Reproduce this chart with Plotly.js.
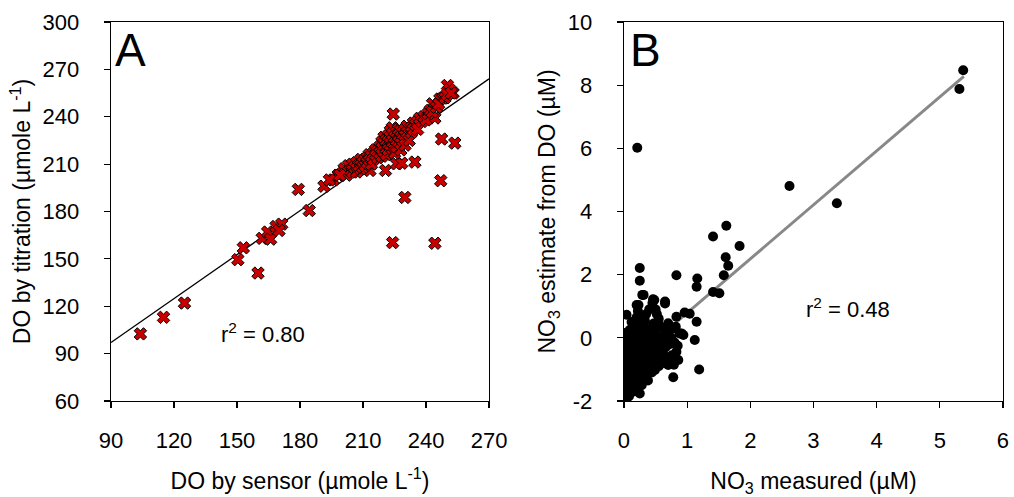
<!DOCTYPE html>
<html>
<head>
<meta charset="utf-8">
<script src="https://cdn.plot.ly/plotly-3.0.1.min.js"></script>
<style>html,body{margin:0;padding:0;background:#fff;}#chart{width:1014px;height:497px;}</style>
</head>
<body>
<div id="chart"></div>
<script>
// ---- Panel A: DO by sensor vs DO by titration ----
const sensorDO = [104,115,125,150.4,153,160,162,164.6,166,168.6,171.3,170,179.2,184.4,191.4,195.8,198.2,224.4,224.1,244.2,229.9,234.7,247,247.4,253.7,250.2,252.9,246.6,243.1,244.2,248,251.2,220.7,226,228.4,213.3,
  200,201,202,203,204,205,205,206,207,207,208,209,209,210,210,211,211,212,212,213,213,214,214,215,215,216,216,217,217,218,218,219,219,219,220,220,220,221,221,221,222,222,222,223,223,223,224,224,224,225,225,225,226,226,226,227,227,227,228,228,228,229,229,230,230,230,231,231,232,232,233,233,234,234,235,236,236,237,238,239,240,241,242,243,245,246,249,250,252,194,199];
const titrationDO = [102.5,113,122,149.5,157,141,163,167,162.5,170.5,172,168,194,180.6,196,200,203,241.7,160.3,159.9,188.9,211.3,199.5,225.9,223.3,259.8,255,251.2,248.2,239.2,251.8,257.2,206,210.2,210.6,206,
  204,207,203,209,206,205,210,208,205,211,209,207,213,211,208,213,209,214,211,213,216,210,215,217,213,216,219,214,218,221,217,215,220,224,222,218,227,221,225,216,224,228,219,222,227,231,225,220,233,227,223,217,230,226,221,229,224,232,231,227,219,230,225,232,228,222,234,230,229,225,233,230,236,232,235,237,232,239,237,240,238,242,244,243,246,248,252,254,255,200,203];
const fitA_x = [90, 270];
const fitA_y = [97, 264];

// ---- Panel B: NO3 measured vs NO3 estimate from DO ----
const no3Measured = [5.37,5.31,2.62,3.37,0.21,1.62,1.41,1.83,1.61,1.65,1.58,0.83,1.16,1.15,1.41,1.51,0.25,0.25,0.29,0.04,0.46,0.65,0.2,0.83,0.96,1.04,1.15,0.7,1.12,1.19,0.78,0.25,0.01,0.88,0.94,0.86,0.7,0.49,0.33,0.57,
  0.02,0.0,0.03,0.01,0.02,0.0,0.03,0.01,0.02,0.0,0.04,0.05,0.06,0.05,0.07,0.05,0.06,0.08,0.06,0.07,0.09,
  0.12,0.11,0.13,0.12,0.1,0.13,0.11,0.14,0.12,0.13,0.15,0.12,
  0.18,0.17,0.19,0.18,0.16,0.19,0.17,0.2,0.18,0.19,0.17,0.2,0.22,
  0.24,0.23,0.25,0.24,0.26,0.23,0.25,0.24,0.26,0.25,0.27,
  0.3,0.31,0.29,0.31,0.3,0.32,0.3,0.31,0.33,0.3,
  0.36,0.37,0.35,0.38,0.36,0.37,0.35,
  0.42,0.44,0.41,0.43,0.42,0.44,0.4,
  0.48,0.5,0.48,0.5,0.47,0.54,
  0.31,0.48,0.65,0.23,0.4,0.35,0.6,0.65,0.73,0.83,0.91,0.62,0.66,0.72,0.8,0.75,0.62,0.55,0.5,0.45,
  0.52,0.58,0.68,0.78,0.85,0.55,0.64,0.76,0.82,0.6,0.7,0.52,0.46,0.38,0.28,0.15,0.08,0.56,0.67,0.79];
const no3Estimate = [8.47,7.88,4.81,4.26,6.02,3.55,3.21,2.91,2.55,2.28,1.98,1.98,1.88,1.62,1.45,1.41,2.21,1.81,1.36,0.73,1.22,1.15,1.04,0.67,0.8,0.76,0.51,0.46,-0.07,-1.0,-1.25,-1.76,-1.86,0.14,0.09,-0.7,-0.86,-1.02,-1.28,-0.6,
  -1.6,-1.4,-1.2,-1.0,-0.8,-0.6,-0.4,-0.2,0.0,0.15,-1.75,-1.5,-1.3,-1.1,-0.9,-0.7,-0.5,-0.3,-0.1,0.1,0.25,
  -1.65,-1.45,-1.25,-1.05,-0.85,-0.65,-0.45,-0.25,-0.05,0.15,0.35,0.5,
  -1.55,-1.35,-1.15,-0.95,-0.75,-0.55,-0.35,-0.15,0.05,0.25,0.45,0.65,0.85,
  -1.4,-1.2,-1.0,-0.8,-0.6,-0.4,-0.2,0.0,0.2,0.4,0.6,
  -1.05,-0.85,-0.65,-0.45,-0.25,-0.05,0.15,0.35,0.55,-1.2,
  -1.0,-0.8,-0.6,-0.4,-0.2,0.0,0.2,
  -0.85,-1.1,-0.6,-0.35,-0.1,0.1,0.3,
  -0.5,-0.25,0.0,0.2,0.45,-0.8,
  1.36,1.2,1.09,1.04,0.9,0.75,-0.07,0.14,-0.65,-0.44,0.14,-0.5,-0.3,-0.2,-0.15,0.0,0.3,0.6,0.9,1.1,
  0.05,-0.1,0.25,0.3,-0.25,-0.9,-0.8,-0.55,0.35,-0.35,0.05,0.75,-0.7,-1.35,-1.5,-1.7,-1.85,0.4,0.1,-0.85];
const fitB_x = [0, 5.38];
const fitB_y = [-0.92, 8.28];

const xTicksA = [90,120,150,180,210,240,270];
const yTicksA = [60,90,120,150,180,210,240,270,300];
const xTicksB = [0,1,2,3,4,5,6];
const yTicksB = [-2,0,2,4,6,8,10];

const FONT = 'Liberation Sans, Arial, Helvetica, sans-serif';

const traces = [
  {x: fitA_x, y: fitA_y, mode: 'lines', line: {color: '#000', width: 1.3}, xaxis: 'x', yaxis: 'y', hoverinfo: 'skip'},
  {x: sensorDO, y: titrationDO, mode: 'markers', xaxis: 'x', yaxis: 'y',
   marker: {symbol: 'x', size: 11, color: 'rgb(200,0,0)', line: {color: '#000', width: 1}}},
  {x: fitB_x, y: fitB_y, mode: 'lines', line: {color: '#888', width: 3}, xaxis: 'x2', yaxis: 'y2', hoverinfo: 'skip'},
  {x: no3Measured, y: no3Estimate, mode: 'markers', xaxis: 'x2', yaxis: 'y2',
   marker: {symbol: 'circle', size: 10, color: '#000'}}
];

const axBase = {
  showline: true, mirror: true, linecolor: '#000', linewidth: 1.3,
  ticks: 'outside', ticklen: 6, tickwidth: 1.2, tickcolor: '#000',
  showgrid: false, zeroline: false,
  tickfont: {family: FONT, size: 22, color: '#000'}
};

const layout = {
  width: 1014, height: 497,
  margin: {l: 111, r: 11, t: 22, b: 96},
  paper_bgcolor: '#fff', plot_bgcolor: '#fff',
  showlegend: false,
  font: {family: FONT, color: '#000'},
  xaxis: Object.assign({}, axBase, {domain: [0, 0.4238], range: [90, 270], tickvals: xTicksA, ticktext: xTicksA.map(String), anchor: 'y',
    ticklabelstandoff: 13,
    title: {text: 'DO by sensor (µmole L<sup>-1</sup>)', font: {family: FONT, size: 23}, standoff: 21}}),
  yaxis: Object.assign({}, axBase, {domain: [0, 1], range: [60, 300], tickvals: yTicksA, ticktext: yTicksA.map(String), anchor: 'x',
    ticklabelstandoff: 20,
    title: {text: 'DO by titration (µmole L<sup>-1</sup>)', font: {family: FONT, size: 23}, standoff: 5}}),
  xaxis2: Object.assign({}, axBase, {domain: [0.5751, 1], range: [0, 6], tickvals: xTicksB, ticktext: xTicksB.map(String), anchor: 'y2',
    ticklabelstandoff: 13,
    title: {text: 'NO<sub>3</sub> measured (µM)', font: {family: FONT, size: 23}, standoff: 21}}),
  yaxis2: Object.assign({}, axBase, {domain: [0, 1], range: [-2, 10], tickvals: yTicksB, ticktext: yTicksB.map(String), anchor: 'x2',
    ticklabelstandoff: 20,
    title: {text: 'NO<sub>3</sub> estimate from DO (µM)', font: {family: FONT, size: 23}, standoff: 5}}),
  annotations: [
    {text: 'A', xref: 'x domain', yref: 'y domain', x: 0.005, y: 1.0, xanchor: 'left', yanchor: 'top', showarrow: false, font: {family: FONT, size: 46, color: '#000'}},
    {text: 'B', xref: 'x2 domain', yref: 'y2 domain', x: 0.01, y: 1.0, xanchor: 'left', yanchor: 'top', showarrow: false, font: {family: FONT, size: 46, color: '#000'}},
    {text: 'r<sup>2</sup> = 0.80', xref: 'x', yref: 'y', x: 162.4, y: 103, showarrow: false, font: {family: FONT, size: 22, color: '#000'}},
    {text: 'r<sup>2</sup> = 0.48', xref: 'x2', yref: 'y2', x: 3.54, y: 0.94, showarrow: false, font: {family: FONT, size: 22, color: '#000'}}
  ]
};

Plotly.newPlot('chart', traces, layout, {displayModeBar: false, staticPlot: true});
</script>
</body>
</html>
